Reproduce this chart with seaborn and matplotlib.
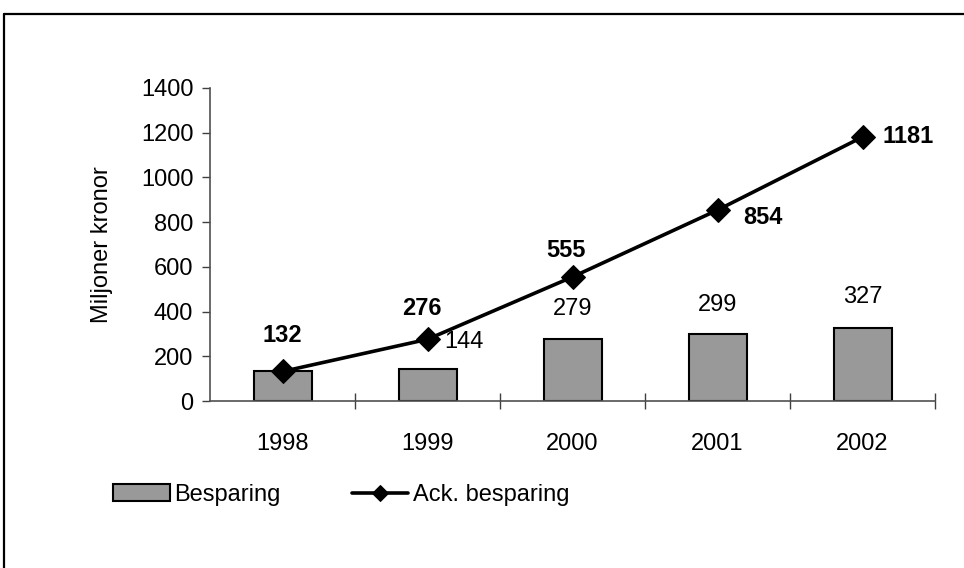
import numpy as np
import pandas as pd
import seaborn as sns
import matplotlib.pyplot as plt
from matplotlib.lines import Line2D

years = ['1998', '1999', '2000', '2001', '2002']
besparing = [132, 144, 279, 299, 327]
ack_besparing = [132, 276, 555, 854, 1181]
y_ticks = [0, 200, 400, 600, 800, 1000, 1200, 1400]

# label offsets in points (layout only)
bar_label_offsets = [None, (26, 19), (0, 21), (0, 21), (0, 22)]
line_label_offsets = [(0, 26), (-4, 22), (-5, 19), (33, -5), (33, 0)]

df = pd.DataFrame({'year': years, 'Besparing': besparing,
                   'Ack. besparing': ack_besparing})
df['pos'] = np.arange(len(years))

sns.set_theme(style='white')
plt.rcParams['font.family'] = ['Liberation Sans', 'DejaVu Sans']
plt.rcParams['text.color'] = 'black'
plt.rcParams['axes.labelcolor'] = 'black'
plt.rcParams['xtick.color'] = 'black'
plt.rcParams['ytick.color'] = 'black'

fs = 17

fig = plt.figure(figsize=(9.64, 5.68), dpi=100)
ax = fig.add_axes([210/964, 1 - 401/568, 725/964, 313/568])

sns.barplot(data=df, x='pos', y='Besparing', color='#999999', width=0.4,
            edgecolor='black', linewidth=1.5, saturation=1, ax=ax,
            native_scale=True, label='Besparing')
sns.lineplot(data=df, x='pos', y='Ack. besparing', color='black', linewidth=2.6,
             marker='D', markersize=12, markeredgecolor='black', ax=ax,
             label='Ack. besparing', legend=False)

for i, v in enumerate(besparing):
    if bar_label_offsets[i] is None:
        continue
    ax.annotate(str(v), (i, v), xytext=bar_label_offsets[i], textcoords='offset points',
                ha='center', va='center', fontsize=fs)
for i, v in enumerate(ack_besparing):
    ax.annotate(str(v), (i, v), xytext=line_label_offsets[i], textcoords='offset points',
                ha='center', va='center', fontsize=fs, fontweight='bold')

ax.set_xlim(-0.5, len(years) - 0.5)
ax.set_ylim(0, 1400)
ax.set_yticks(y_ticks)
ax.set_xticks(df['pos'])
ax.set_xticklabels(years)
ax.set_xticks(np.arange(len(years)) + 0.5, minor=True)
ax.tick_params(axis='x', which='major', length=0, pad=23, labelsize=fs)
ax.tick_params(axis='x', which='minor', length=11, direction='inout', width=1, color='#404040')
ax.tick_params(axis='y', length=6, direction='out', width=1, color='#404040', pad=6, labelsize=fs)
ax.xaxis.set_tick_params(bottom=True, which='both')
ax.yaxis.set_tick_params(left=True)
ax.set_xlabel('')
ax.set_ylabel('Miljoner kronor', fontsize=fs, labelpad=20)
for s in ['top', 'right']:
    ax.spines[s].set_visible(False)
for s in ['left', 'bottom']:
    ax.spines[s].set_color('#505050')
    ax.spines[s].set_linewidth(1.2)
ax.patch.set_alpha(0)

handles, labels = ax.get_legend_handles_labels()
if ax.get_legend() is not None:
    ax.get_legend().remove()
order = [labels.index('Besparing'), labels.index('Ack. besparing')]
leg = fig.legend([handles[k] for k in order], [labels[k] for k in order],
                 loc='center left', bbox_to_anchor=(113/964, 1 - 495/568),
                 ncol=2, frameon=False, fontsize=fs, borderpad=0, handlelength=2.4,
                 handletextpad=0.2, columnspacing=3.0, borderaxespad=0)
leg.legend_handles[1].set_markersize(8)

# outer frame, cut off on the right and bottom
top = 1 - 14/568
left = 4/964
fig.add_artist(Line2D([left, 1], [top, top], color='black', linewidth=1.6, transform=fig.transFigure))
fig.add_artist(Line2D([left, left], [0, top], color='black', linewidth=1.6, transform=fig.transFigure))

fig.savefig('out.png', dpi=100, facecolor='white')
